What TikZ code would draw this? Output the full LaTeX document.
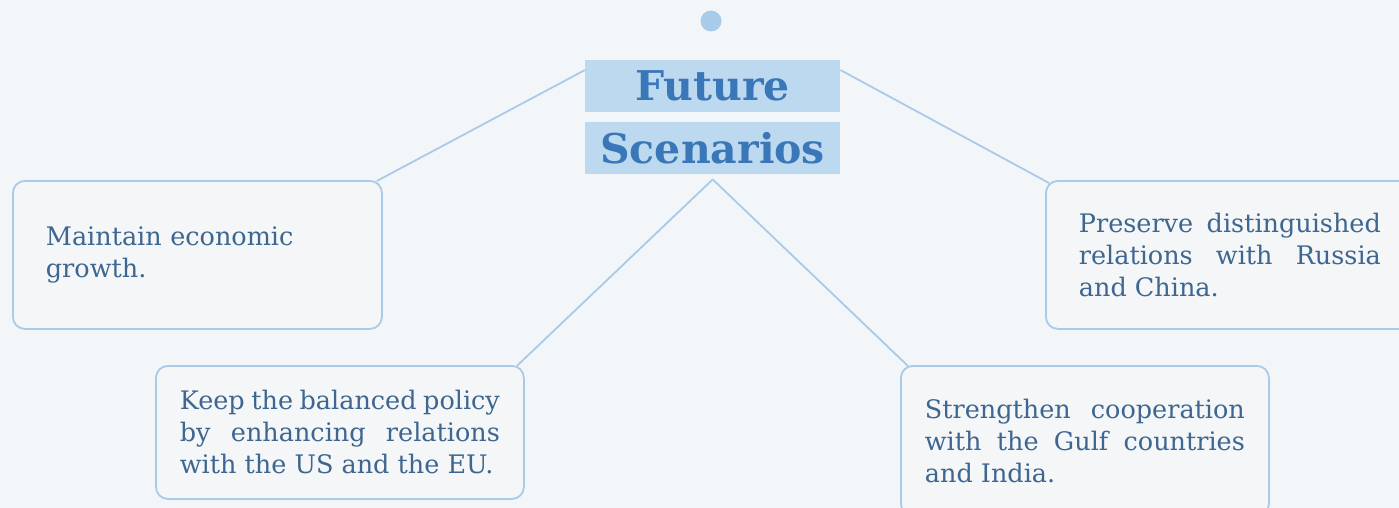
\documentclass[tikz,border=0pt]{standalone}
\usepackage{fontspec}
\setmainfont{DejaVu Serif}
\usetikzlibrary{calc}
\definecolor{bgc}{HTML}{F3F6F9}
\definecolor{boxfill}{HTML}{F5F6F7}
\definecolor{boxline}{HTML}{A9CAE8}
\definecolor{titlefill}{HTML}{BDD9F0}
\definecolor{titletext}{HTML}{3A77B9}
\definecolor{bodytext}{HTML}{3D6690}
\definecolor{dotc}{HTML}{A8CBEA}
\tikzset{
  card/.style={draw=boxline, line width=1.8pt, fill=boxfill, rounded corners=12pt,
    anchor=north west, inner ysep=0pt, text=bodytext, font=\fontsize{25.5}{32}\selectfont},
  titlebox/.style={fill=titlefill, minimum width=255pt, anchor=north west, inner sep=0pt,
    text=titletext, font=\fontsize{41}{44}\selectfont\bfseries},
  link/.style={draw=boxline, line width=1.8pt}
}
\begin{document}
\begin{tikzpicture}[x=1pt,y=-1pt]
\useasboundingbox[fill=bgc] (0,0) rectangle (1399,508);
\node[circle, fill=dotc, minimum size=21pt, inner sep=0pt] (dot) at (711,21) {};
\node[titlebox, minimum height=52pt] (fut) at (585,60) {Future};
\node[titlebox, minimum height=52pt] (scen) at (585,122) {Scenarios};
\node[card, inner xsep=33pt, text width=303pt, minimum height=148pt, align=left] (b1) at (12,180)
  {Maintain economic\\growth.};
\node[card, inner xsep=33pt, text width=302pt, minimum height=148pt, align=justify] (b2) at (1045,180)
  {Preserve distinguished\linebreak relations with Russia\linebreak and China.};
\node[card, inner xsep=24pt, text width=320pt, minimum height=133pt, align=justify] (b3) at (155,365)
  {Keep the balanced policy\linebreak by enhancing relations\linebreak with the US and the EU.};
\node[card, inner xsep=24pt, text width=320pt, minimum height=150pt, align=justify] (b4) at (900,365)
  {Strengthen cooperation\linebreak with the Gulf countries\linebreak and India.};
\draw[link] ($(fut.north west)+(0,10)$) -- ($(b1.north east)+(-6,1)$);
\draw[link] ($(fut.north east)+(0,10)$) -- ($(b2.north west)+(4,3)$);
\draw[link] ($(scen.south)+(0,5)$) -- ($(b3.north east)+(-8,1)$);
\draw[link] ($(scen.south)+(0,5)$) -- ($(b4.north west)+(8,1)$);
\end{tikzpicture}
\end{document}
